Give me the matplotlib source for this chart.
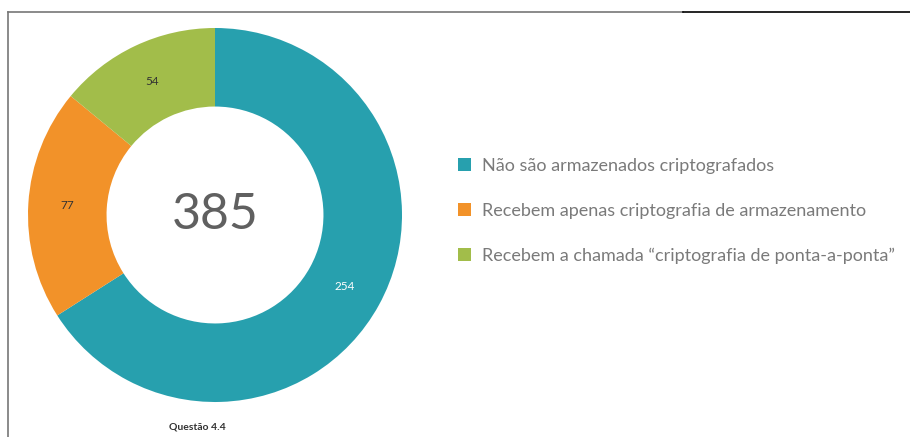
import matplotlib.pyplot as plt
from matplotlib.lines import Line2D

# dados
labels = ['Não são armazenados criptografados',
          'Recebem apenas criptografia de armazenamento',
          'Recebem a chamada \u201ccriptografia de ponta-a-ponta\u201d']
values = [254, 77, 54]
colors = ['#27a0ae', '#f29229', '#a2bd4a']
label_colors = ['white', '#333333', '#333333']
total = sum(values)

W, H = 910, 437
fig = plt.figure(figsize=(W / 100, H / 100), dpi=100)
plt.rcParams['font.family'] = ['Lato', 'DejaVu Sans']

# eixo do donut: centro (215, 215), raio 187 px
ax = fig.add_axes([28 / W, 35 / H, 374 / W, 374 / H])
wedges, texts, autotexts = ax.pie(
    values, colors=colors, startangle=90, counterclock=False,
    radius=1, wedgeprops=dict(width=0.42, edgecolor='none'),
    autopct=lambda p: f'{round(p * total / 100)}', pctdistance=0.79,
    textprops=dict(fontsize=8.5))
for t, c in zip(autotexts, label_colors):
    t.set_color(c)
ax.set_xlim(-1, 1)
ax.set_ylim(-1, 1)
ax.set_aspect('equal')
ax.axis('off')

ax.text(0, 0, str(total), ha='center', va='center', fontsize=36,
        color='#606060', fontweight='normal')

# legenda
leg = fig.legend(wedges, labels, loc='center left',
                 bbox_to_anchor=(442 / W, 1 - 211 / H), frameon=False,
                 fontsize=13, labelcolor='#7a7a7a', handlelength=0.7,
                 handleheight=0.7, handletextpad=0.6, labelspacing=1.6)

fig.text(197 / W, 1 - 427 / H, 'Questão 4.4', ha='center', va='center',
         fontsize=7.5, fontweight='bold', color='#333333')

# bordas
ytop = 1 - 11.5 / H
fig.add_artist(Line2D([7.5 / W, 683 / W], [ytop, ytop], color='#777777', lw=1.2))
fig.add_artist(Line2D([683 / W, 1], [ytop, ytop], color='black', lw=1.2))
fig.add_artist(Line2D([7.5 / W, 7.5 / W], [0, ytop], color='#777777', lw=1.2))

fig.savefig('out.png', dpi=100)
